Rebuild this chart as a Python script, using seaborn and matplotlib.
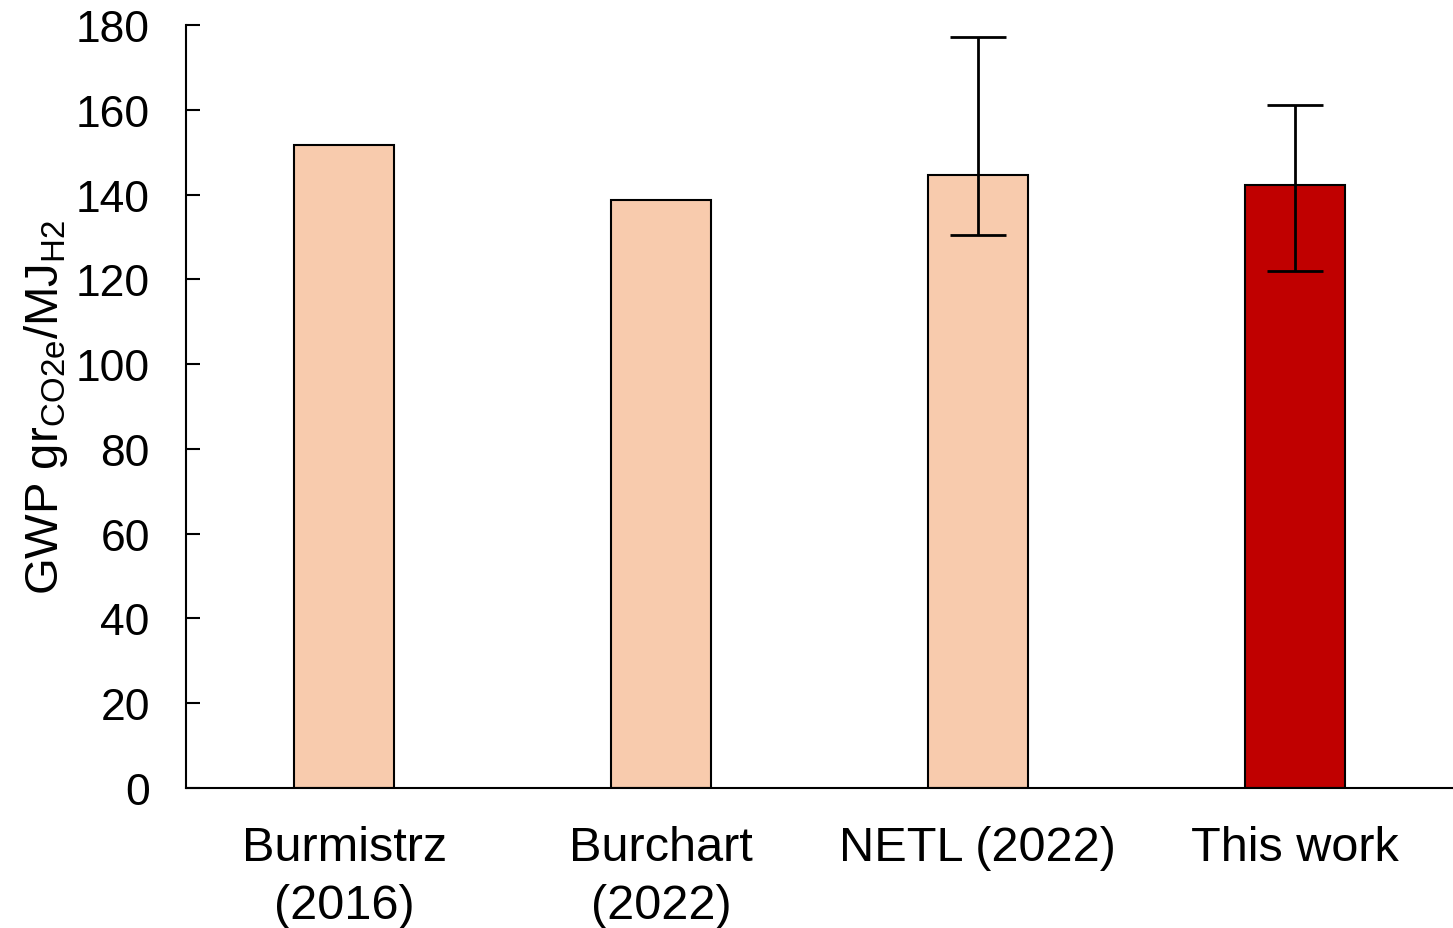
import numpy as np
import pandas as pd
import matplotlib
matplotlib.use("Agg")
import matplotlib.pyplot as plt
import seaborn as sns

studies = ["Burmistrz\n(2016)", "Burchart\n(2022)", "NETL (2022)", "This work"]
gwp = [151.6, 138.7, 144.6, 142.2]
err_low = [np.nan, np.nan, 130.5, 122.0]
err_high = [np.nan, np.nan, 177.2, 161.1]
bar_colors = ["#F8CBAD", "#F8CBAD", "#F8CBAD", "#C00000"]

df = pd.DataFrame({"study": studies, "gwp": gwp, "low": err_low, "high": err_high})

sns.set_style("ticks")
plt.rcParams["font.family"] = ["Liberation Sans", "DejaVu Sans"]
plt.rcParams["mathtext.fontset"] = "custom"
plt.rcParams["mathtext.rm"] = "Liberation Sans"
plt.rcParams["text.color"] = "black"
plt.rcParams["axes.labelcolor"] = "black"
plt.rcParams["xtick.color"] = "black"
plt.rcParams["ytick.color"] = "black"
plt.rcParams["axes.edgecolor"] = "black"

fig = plt.figure(figsize=(14.53, 9.29), dpi=100)
ax = fig.add_axes([0.128, 0.1507, 0.872, 0.8213])

sns.barplot(data=df, x="study", y="gwp", hue="study", palette=bar_colors,
            width=0.315, edgecolor="black", linewidth=1.5, legend=False,
            saturation=1, ax=ax)

has_err = df["low"].notna()
xs = np.arange(len(df))[has_err]
ax.errorbar(xs, df["gwp"][has_err],
            yerr=[df["gwp"][has_err] - df["low"][has_err], df["high"][has_err] - df["gwp"][has_err]],
            fmt="none", ecolor="black", elinewidth=2, capsize=20, capthick=2)

ax.set_xlim(-0.5, 3.5)
ax.set_ylim(0, 180)
ax.set_yticks(range(0, 181, 20))
ax.set_xlabel("")
ax.set_ylabel(r"GWP gr$_\mathregular{CO2e}$/MJ$_\mathregular{H2}$", fontsize=34, labelpad=4)

ax.tick_params(axis="y", direction="in", length=10, width=1.5, labelsize=32, pad=26)
ax.tick_params(axis="x", length=0, labelsize=35, pad=27)
for lbl in ax.get_xticklabels():
    lbl.set_linespacing(1.35)

sns.despine(ax=ax, top=True, right=True)
ax.spines["left"].set_linewidth(1.5)
ax.spines["bottom"].set_linewidth(1.5)

fig.savefig("out.png", dpi=100)
